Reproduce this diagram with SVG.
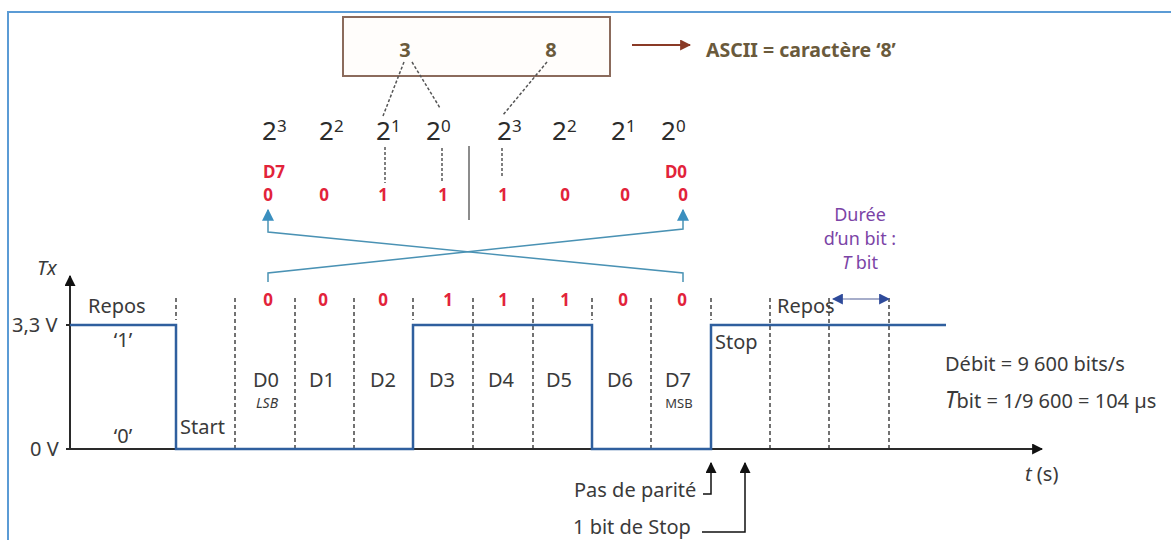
<svg xmlns="http://www.w3.org/2000/svg" width="1171" height="540" viewBox="0 0 1171 540">
  <style>
    .txt { font-family: "Noto Sans", "Open Sans", sans-serif; fill: #3a3a3a; }
    .lbl { font-size: 20px; }
    .pow { font-size: 26px; fill: #2b2b2b; }
    .sup { font-size: 17px; }
    .bit { font-family: "Noto Sans", sans-serif; font-weight: bold; font-size: 17px; fill: #e2233a; text-anchor: middle; }
    .brown { font-family: "Noto Sans", sans-serif; font-weight: bold; fill: #6a5a3c; }
    .purple { font-family: "Noto Sans", sans-serif; font-size: 18px; fill: #7b44a6; text-anchor: middle; }
    .grid { stroke: #444; stroke-width: 1.5; stroke-dasharray: 4 3; fill: none; }
    .sig { stroke: #2f5f9e; stroke-width: 2.5; fill: none; }
    .axis { stroke: #2a2a2a; stroke-width: 2; fill: none; }
    .swap { stroke: #4a92b4; stroke-width: 1.5; fill: none; }
    .dash { stroke: #555; stroke-width: 1.5; stroke-dasharray: 3 2; fill: none; }
  </style>
  <defs>
    <marker id="blkBig" viewBox="0 0 10 10" refX="9" refY="5" markerWidth="11" markerHeight="11" orient="auto" markerUnits="userSpaceOnUse">
      <path d="M0,0 L10,5 L0,10 z" fill="#111"/>
    </marker>
    <marker id="teal" viewBox="0 0 10 10" refX="9" refY="5" markerWidth="12" markerHeight="12" orient="auto" markerUnits="userSpaceOnUse">
      <path d="M0,0 L10,5 L0,10 z" fill="#3a8fbf"/>
    </marker>
    <marker id="navy" viewBox="0 0 10 10" refX="9" refY="5" markerWidth="11" markerHeight="11" orient="auto" markerUnits="userSpaceOnUse">
      <path d="M0,0 L10,5 L0,10 z" fill="#2e4a9a"/>
    </marker>
    <marker id="rust" viewBox="0 0 10 10" refX="9" refY="5" markerWidth="11" markerHeight="11" orient="auto" markerUnits="userSpaceOnUse">
      <path d="M0,0 L10,5 L0,10 z" fill="#8a3a26"/>
    </marker>
  </defs>

  <rect width="1171" height="540" fill="#ffffff"/>
  <!-- outer frame -->
  <rect x="8" y="12" width="1200" height="560" fill="none" stroke="#5b9bd5" stroke-width="2"/>

  <!-- decimal box -->
  <g id="digits-box">
    <rect x="343" y="17" width="267" height="59" fill="#fffdfb" stroke="#8b6b5c" stroke-width="2"/>
    <text class="brown" x="405" y="57" font-size="20" text-anchor="middle">3</text>
    <text class="brown" x="551" y="57" font-size="20" text-anchor="middle">8</text>
  </g>

  <g id="ascii-label">
    <line x1="632" y1="45" x2="690" y2="45" stroke="#8a3a26" stroke-width="1.8" marker-end="url(#rust)"/>
    <text class="brown" x="706" y="57" font-size="19.5">ASCII = caractère ‘8’</text>
  </g>

  <!-- powers of two -->
  <g id="powers" class="txt pow">
    <text x="262" y="140">2<tspan class="sup" dy="-8">3</tspan></text>
    <text x="319" y="140">2<tspan class="sup" dy="-8">2</tspan></text>
    <text x="376" y="140">2<tspan class="sup" dy="-8">1</tspan></text>
    <text x="426" y="140">2<tspan class="sup" dy="-8">0</tspan></text>
    <text x="497" y="140">2<tspan class="sup" dy="-8">3</tspan></text>
    <text x="552" y="140">2<tspan class="sup" dy="-8">2</tspan></text>
    <text x="611" y="140">2<tspan class="sup" dy="-8">1</tspan></text>
    <text x="661" y="140">2<tspan class="sup" dy="-8">0</tspan></text>
  </g>

  <g id="decomposition">
    <line class="dash" x1="404" y1="62" x2="383" y2="116"/>
    <line class="dash" x1="412" y1="62" x2="440" y2="108"/>
    <line class="dash" x1="547" y1="62" x2="503" y2="115"/>
    <line class="dash" x1="385" y1="147" x2="385" y2="183"/>
    <line class="dash" x1="442" y1="148" x2="442" y2="183"/>
    <line class="dash" x1="502" y1="148" x2="502" y2="178"/>
    <line x1="469" y1="146" x2="469" y2="220" stroke="#666" stroke-width="1.5"/>
  </g>

  <!-- byte read MSB first -->
  <g id="byte-msb">
    <text class="bit" x="274" y="178">D7</text>
    <text class="bit" x="676" y="178">D0</text>
    <text class="bit" x="268" y="201">0</text>
    <text class="bit" x="324" y="201">0</text>
    <text class="bit" x="383" y="201">1</text>
    <text class="bit" x="443" y="201">1</text>
    <text class="bit" x="503" y="201">1</text>
    <text class="bit" x="565" y="201">0</text>
    <text class="bit" x="625" y="201">0</text>
    <text class="bit" x="683" y="201">0</text>
  </g>

  <!-- bit order reversal -->
  <g id="connectors">
    <polyline class="swap" points="268,282 268,273 683,229 683,210" marker-end="url(#teal)"/>
    <polyline class="swap" points="683,282 683,273 268,232 268,210" marker-end="url(#teal)"/>
  </g>

  <!-- bits as transmitted -->
  <g id="byte-lsb">
    <text class="bit" x="268" y="306">0</text>
    <text class="bit" x="323" y="306">0</text>
    <text class="bit" x="383" y="306">0</text>
    <text class="bit" x="448" y="306">1</text>
    <text class="bit" x="503" y="306">1</text>
    <text class="bit" x="565" y="306">1</text>
    <text class="bit" x="623" y="306">0</text>
    <text class="bit" x="682" y="306">0</text>
  </g>

  <!-- bit boundaries -->
  <g id="grid">
    <line class="grid" x1="176" y1="298" x2="176" y2="320"/>
    <line class="grid" x1="235" y1="298" x2="235" y2="449"/>
    <line class="grid" x1="295" y1="298" x2="295" y2="449"/>
    <line class="grid" x1="354" y1="298" x2="354" y2="449"/>
    <line class="grid" x1="413" y1="298" x2="413" y2="320"/>
    <line class="grid" x1="473" y1="298" x2="473" y2="449"/>
    <line class="grid" x1="533" y1="298" x2="533" y2="449"/>
    <line class="grid" x1="592" y1="298" x2="592" y2="320"/>
    <line class="grid" x1="651" y1="298" x2="651" y2="449"/>
    <line class="grid" x1="711" y1="298" x2="711" y2="320"/>
    <line class="grid" x1="770" y1="298" x2="770" y2="449"/>
    <line class="grid" x1="829" y1="298" x2="829" y2="449"/>
    <line class="grid" x1="889" y1="298" x2="889" y2="449"/>
  </g>

  <!-- axes -->
  <g id="axes">
    <line class="axis" x1="70" y1="449" x2="70" y2="276" marker-end="url(#blkBig)"/>
    <line class="axis" x1="70" y1="449" x2="1042" y2="449" marker-end="url(#blkBig)"/>
    <line class="axis" x1="66" y1="325" x2="70" y2="325"/>
    <line class="axis" x1="66" y1="449" x2="70" y2="449"/>
    <text class="txt lbl" x="37" y="275" font-style="italic">Tx</text>
    <text class="txt lbl" x="12" y="332">3,3 V</text>
    <text class="txt lbl" x="30" y="456">0 V</text>
    <text class="txt lbl" x="1025" y="481"><tspan font-style="italic">t</tspan> (s)</text>
  </g>

  <!-- Tx signal -->
  <g id="signal">
    <polyline class="sig" points="70,325 176,325 176,449 413,449 413,325 592,325 592,449 711,449 711,325 946,325"/>
  </g>

  <g id="labels" class="txt lbl">
    <text x="88" y="313">Repos</text>
    <text x="123" y="347" text-anchor="middle">‘1’</text>
    <text x="123" y="443" text-anchor="middle">‘0’</text>
    <text x="180" y="434">Start</text>
    <text x="266" y="387" text-anchor="middle">D0</text>
    <text x="267" y="408" text-anchor="middle" font-size="14" font-style="italic">LSB</text>
    <text x="322" y="387" text-anchor="middle">D1</text>
    <text x="383" y="387" text-anchor="middle">D2</text>
    <text x="442" y="387" text-anchor="middle">D3</text>
    <text x="501" y="387" text-anchor="middle">D4</text>
    <text x="559" y="387" text-anchor="middle">D5</text>
    <text x="620" y="387" text-anchor="middle">D6</text>
    <text x="678" y="387" text-anchor="middle">D7</text>
    <text x="679" y="408" text-anchor="middle" font-size="13">MSB</text>
    <text x="715" y="349">Stop</text>
    <text x="777" y="313">Repos</text>
  </g>

  <!-- bit duration -->
  <g id="bit-duration">
    <text class="purple" x="860" y="221">Durée</text>
    <text class="purple" x="860" y="245">d’un bit :</text>
    <text class="purple" x="860" y="269"><tspan font-style="italic">T</tspan> bit</text>
    <line x1="850" y1="299" x2="833" y2="299" stroke="#8892b8" stroke-width="1.3" marker-end="url(#navy)"/>
    <line x1="850" y1="299" x2="889" y2="299" stroke="#8892b8" stroke-width="1.3" marker-end="url(#navy)"/>
  </g>

  <g id="rate" class="txt lbl">
    <text x="945" y="371">Débit = 9 600 bits/s</text>
    <text x="945" y="408"><tspan font-style="italic" font-size="23">T</tspan>bit = 1/9 600 = 104 µs</text>
  </g>

  <!-- frame notes -->
  <g id="notes">
    <text class="txt lbl" x="574" y="497">Pas de parité</text>
    <polyline points="703,494 711,494 711,463" fill="none" stroke="#111" stroke-width="1.5" marker-end="url(#blkBig)"/>
    <text class="txt lbl" x="573" y="534">1 bit de Stop</text>
    <polyline points="702,532 745,532 745,463" fill="none" stroke="#111" stroke-width="1.5" marker-end="url(#blkBig)"/>
  </g>
</svg>
